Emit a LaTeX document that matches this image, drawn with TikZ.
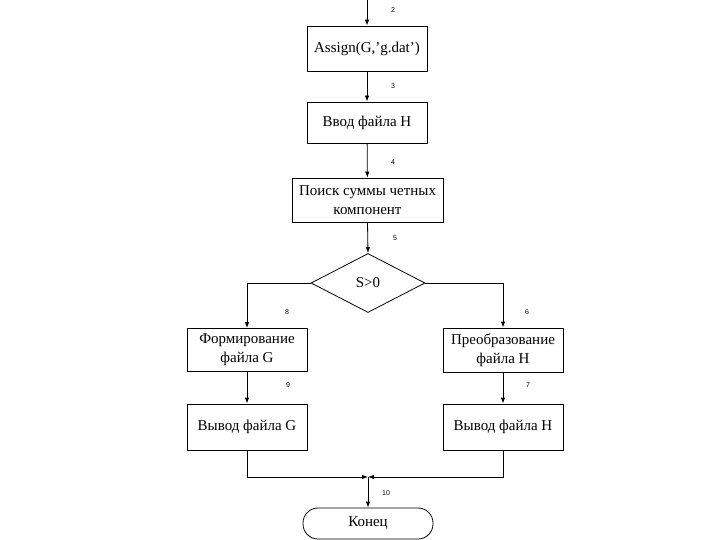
\documentclass[tikz,border=0pt]{standalone}
\usepackage{fontspec}
\setmainfont{Liberation Serif}
\newfontfamily\labfont{Liberation Sans}
\usetikzlibrary{shapes.geometric,arrows.meta}
\begin{document}
\begin{tikzpicture}[x=1pt,y=-1pt,
  line width=0.8pt,
  every node/.style={font=\fontsize{15}{19}\selectfont},
  procbox/.style={draw, rectangle, inner sep=0pt, minimum width=120pt, align=center},
  decbox/.style={draw, diamond, inner sep=0pt, minimum width=114pt, minimum height=59pt},
  termbox/.style={draw, rectangle, rounded corners=15pt, inner sep=0pt, minimum width=130pt, minimum height=31pt},
  lab/.style={font=\labfont\fontsize{7}{8}\selectfont, inner sep=0pt},
  arr/.style={-{Latex[length=6pt,width=4.5pt]}},
  mergearr/.style={-{Latex[length=6pt,width=4.5pt]}}
]
\useasboundingbox (0,0) rectangle (720,540);
\coordinate (top) at (367,0);
\node[procbox, minimum height=45pt] (b1) at (367,48.5) {Assign(G,'g.dat')};
\node[procbox, minimum height=41pt] (b2) at (367,122.5) {Ввод файла H};
\node[procbox, minimum width=151pt, minimum height=44pt] (b3) at (367.5,200) {Поиск суммы четных\\компонент};
\node[decbox] (d) at (368,283) {S>0};
\node[procbox, minimum height=43pt] (l1) at (247,350) {Формирование\\файла G};
\node[procbox, minimum height=46pt] (l2) at (247,427) {Вывод файла G};
\node[procbox, minimum height=44pt] (r1) at (503,350) {Преобразование\\файла H};
\node[procbox, minimum height=46pt] (r2) at (503,427) {Вывод файла H};
\node[termbox] (e) at (368,523.5) {Конец};
\coordinate (m) at (368,477);

\draw[arr] (top) -- (b1);
\draw[arr] (b1) -- (b2);
\draw[arr] (b2) -- (b3);
\draw[arr] (b3.south) -- (d.north);
\draw[arr] (d.west) -| (l1.north);
\draw[arr] (d.east) -| (r1.north);
\draw[arr] (l1) -- (l2);
\draw[arr] (r1) -- (r2);
\draw[mergearr] (l2.south) |- (m);
\draw[mergearr] (r2.south) |- (m);
\draw[arr] (m) -- (e.north);

\node[lab] (n2) at (393,10) {2};
\node[lab] (n3) at (393,86) {3};
\node[lab] (n4) at (393,162) {4};
\node[lab] (n5) at (395,238) {5};
\node[lab] (n8) at (287,312) {8};
\node[lab] (n6) at (527,312) {6};
\node[lab] (n9) at (288,385) {9};
\node[lab] (n7) at (528,385) {7};
\node[lab] (n10) at (386,493) {10};
\end{tikzpicture}
\end{document}
